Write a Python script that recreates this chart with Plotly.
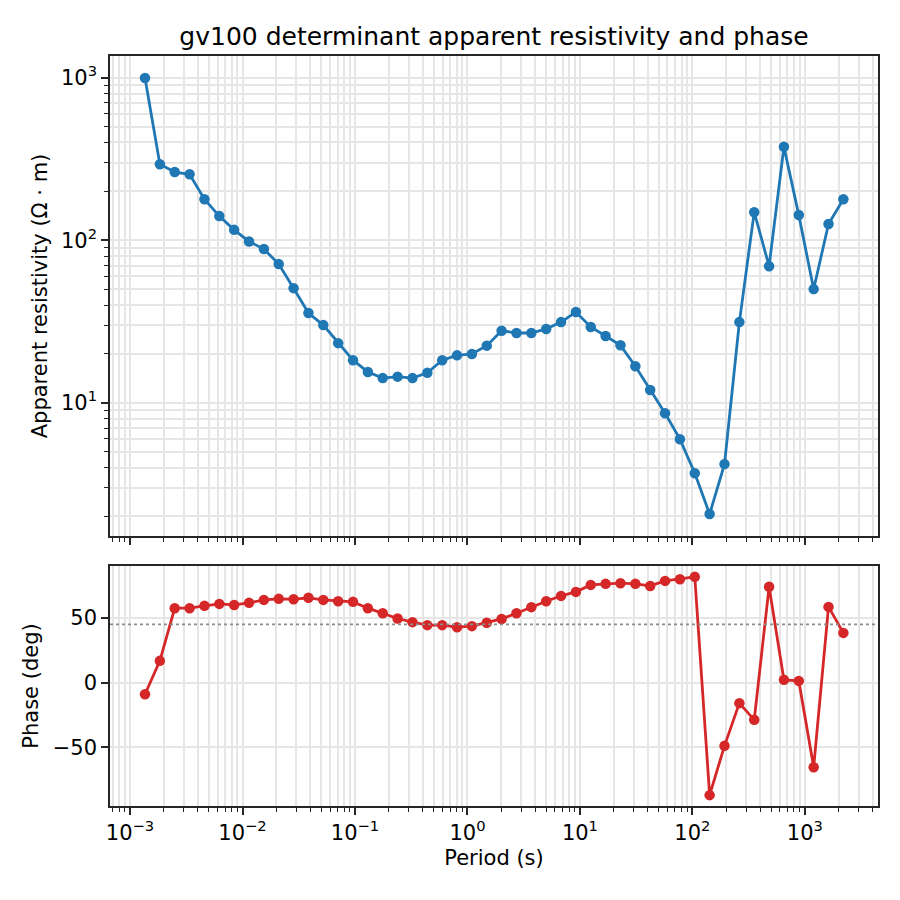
import plotly.graph_objects as go
from plotly.subplots import make_subplots

# ── Données ───────────────────────────────────────────────────────────────────
period_s = [
    0.001359, 0.001842, 0.002497, 0.003385, 0.004589, 0.006219, 0.008430, 0.01143,
    0.01549, 0.02100, 0.02846, 0.03858, 0.05230, 0.07088, 0.09609, 0.1302,
    0.1765, 0.2393, 0.3244, 0.4397, 0.5961, 0.8080, 1.095, 1.484,
    2.012, 2.728, 3.698, 5.012, 6.794, 9.209, 12.48, 16.92,
    22.94, 31.10, 42.15, 57.14, 77.45, 105.0, 142.3, 192.9,
    261.5, 354.4, 480.5, 651.3, 882.8, 1197.0, 1622.0, 2198.0,
]
rho_app = [
    998, 294, 263, 255, 179, 141, 116, 98.4,
    88.4, 71.4, 50.8, 35.7, 30.1, 23.3, 18.3, 15.5,
    14.2, 14.5, 14.2, 15.3, 18.3, 19.6, 20.0, 22.5,
    27.8, 26.9, 26.9, 28.5, 31.4, 36.2, 29.3, 25.8,
    22.6, 16.8, 12.0, 8.64, 5.98, 3.69, 2.07, 4.20,
    31.4, 149, 69.3, 376, 143, 50.1, 126, 179,
]
phase_deg = [
    -9.0, 16.8, 57.5, 57.5, 59.3, 60.8, 60.0, 61.6,
    63.9, 64.7, 64.4, 65.5, 63.9, 62.9, 62.4, 57.5,
    53.6, 49.5, 46.7, 44.4, 44.4, 42.8, 43.6, 46.2,
    49.2, 53.6, 58.3, 62.9, 67.0, 70.1, 75.5, 76.3,
    76.8, 76.3, 74.7, 78.6, 79.9, 81.7, -87.0, -48.9,
    -15.9, -28.8, 74.0, 2.1, 1.3, -65.4, 58.5, 38.4,
]

x_major = [1e-3, 1e-2, 1e-1, 1e0, 1e1, 1e2, 1e3]
x_major_txt = ["10<sup>−3</sup>", "10<sup>−2</sup>", "10<sup>−1</sup>", "10<sup>0</sup>",
               "10<sup>1</sup>", "10<sup>2</sup>", "10<sup>3</sup>"]
y_major = [10, 100, 1000]
y_major_txt = ["10<sup>1</sup>", "10<sup>2</sup>", "10<sup>3</sup>"]
phase_ticks = [-50, 0, 50]
phase_ticks_txt = ["−50", "0", "50"]

BLUE = "#1f77b4"
RED = "#d62728"
GRID = "#e6e6e6"
AXC = "#262626"
FONT = "DejaVu Sans"
FS = 21

# graduations mineures des axes log (2..9 × 10^n)
x_minor = [m * 10.0 ** e for e in range(-4, 4) for m in range(2, 10)]
y_minor = [m * 10.0 ** e for e in range(0, 4) for m in range(2, 10)]

fig = make_subplots(rows=2, cols=1, shared_xaxes=True)

fig.add_trace(go.Scatter(
    x=period_s, y=rho_app, mode="lines+markers",
    line=dict(color=BLUE, width=2.8),
    marker=dict(color=BLUE, size=10.5),
    showlegend=False,
), row=1, col=1)

fig.add_trace(go.Scatter(
    x=period_s, y=phase_deg, mode="lines+markers",
    line=dict(color=RED, width=2.8),
    marker=dict(color=RED, size=10.5),
    showlegend=False,
), row=2, col=1)

# référence à 45°
fig.add_hline(y=45, row=2, col=1, line=dict(color="#8c8c8c", width=1.6, dash="dot"))

common_axis = dict(
    showline=True, linecolor=AXC, linewidth=1.6, mirror=True,
    ticks="outside", ticklen=7, tickwidth=1.5, tickcolor=AXC,
    showgrid=True, gridcolor=GRID, gridwidth=1.7, zeroline=False,
    tickfont=dict(family=FONT, size=FS, color="black"),
)

x_common = dict(
    common_axis, type="log", range=[-3.178, 3.650],
    tickmode="array", tickvals=x_major, ticktext=x_major_txt,
    minor=dict(tickmode="array", tickvals=x_minor, ticks="outside", ticklen=4,
               tickwidth=1.2, tickcolor=AXC, showgrid=True, gridcolor=GRID, gridwidth=1.7),
)

fig.update_layout(
    width=900, height=900,
    paper_bgcolor="white", plot_bgcolor="white",
    margin=dict(l=102, r=30, t=48, b=102),
    font=dict(family=FONT, size=FS, color="black"),
    title=dict(
        text="gv100 determinant apparent resistivity and phase",
        x=0.5, xref="paper", xanchor="center",
        y=1 - 28 / 900, yref="container", yanchor="middle",
        font=dict(family=FONT, size=25, color="black"),
    ),
    xaxis=dict(x_common, domain=[0, 1], showticklabels=False),
    xaxis2=dict(x_common, domain=[0, 1], matches="x",
                title=dict(text="Period (s)", standoff=6,
                           font=dict(family=FONT, size=FS))),
    yaxis=dict(
        common_axis, type="log", domain=[0.36, 1], range=[0.181, 3.134],
        tickmode="array", tickvals=y_major, ticktext=y_major_txt,
        minor=dict(tickmode="array", tickvals=y_minor, ticks="outside", ticklen=4,
                   tickwidth=1.2, tickcolor=AXC, showgrid=True, gridcolor=GRID, gridwidth=1.7),
        title=dict(text="Apparent resistivity (Ω · m)", standoff=8,
                   font=dict(family=FONT, size=FS)),
    ),
    yaxis2=dict(
        common_axis, domain=[0, 0.32], range=[-95.4, 90.1],
        tickmode="array", tickvals=phase_ticks, ticktext=phase_ticks_txt,
        title=dict(text="Phase (deg)", standoff=8,
                   font=dict(family=FONT, size=FS)),
    ),
)

fig.write_html("out.html")
